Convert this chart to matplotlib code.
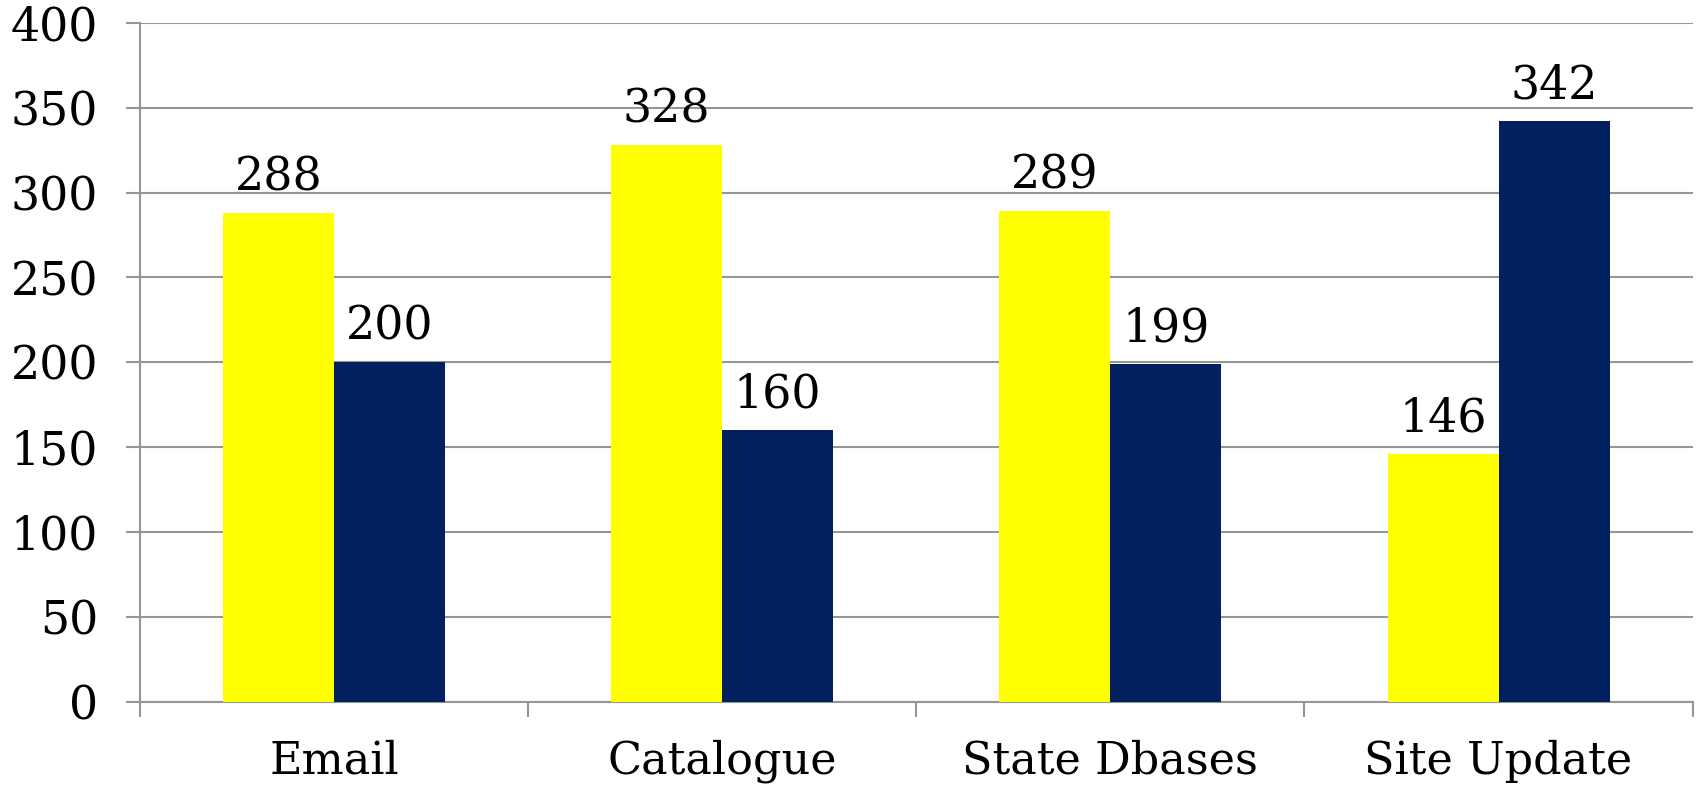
import matplotlib.pyplot as plt
import numpy as np

categories = ['Email', 'Catalogue', 'State Dbases', 'Site Update']
series_a = [288, 328, 289, 146]
series_b = [200, 160, 199, 342]
yticks = [0, 50, 100, 150, 200, 250, 300, 350, 400]

YELLOW = '#FFFF00'
NAVY = '#022060'
GRID = '#969696'


def main():
    plt.rcParams['font.family'] = ['DejaVu Serif']
    plt.rcParams['font.size'] = 33

    fig = plt.figure(figsize=(16.96, 7.86), dpi=100)
    ax = fig.add_axes([0.0825, 0.107, 0.9155, 0.864])

    x = np.arange(len(categories))
    w = 0.286
    bars_a = ax.bar(x - w / 2, series_a, w, color=YELLOW, zorder=3)
    bars_b = ax.bar(x + w / 2, series_b, w, color=NAVY, zorder=3)

    for bars, vals in ((bars_a, series_a), (bars_b, series_b)):
        for b, v in zip(bars, vals):
            ax.annotate(str(v), (b.get_x() + b.get_width() / 2, v),
                        xytext=(0, 9), textcoords='offset points',
                        ha='center', va='bottom', fontsize=33)

    ax.set_xlim(-0.5, 3.5)
    ax.set_ylim(0, 400)
    ax.set_yticks(yticks)
    ax.yaxis.grid(True, color=GRID, linewidth=1.5, zorder=0)

    ax.set_xticks(x)
    ax.set_xticklabels(categories, fontsize=32)
    ax.set_xticks(np.arange(len(categories) + 1) - 0.5, minor=True)
    ax.tick_params(axis='x', which='major', length=0, pad=27)
    ax.tick_params(axis='x', which='minor', length=11, width=1.5,
                   color=GRID, direction='out')
    ax.tick_params(axis='y', length=10, width=1.5, color=GRID, pad=20)

    for side in ('top', 'right'):
        ax.spines[side].set_visible(False)
    for side in ('left', 'bottom'):
        ax.spines[side].set_color(GRID)
        ax.spines[side].set_linewidth(1.5)

    fig.savefig('out.png', dpi=100)


if __name__ == '__main__':
    main()
